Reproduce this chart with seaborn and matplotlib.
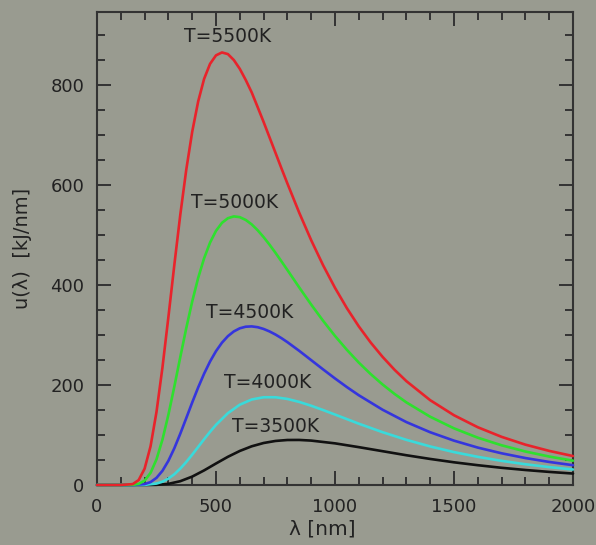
import numpy as np
import pandas as pd
import seaborn as sns
import matplotlib
matplotlib.use("Agg")
import matplotlib.pyplot as plt
from matplotlib.ticker import MultipleLocator

# ---- data (wavelength in nm, u in kJ/nm) ----
temps = ["T=3500K", "T=4000K", "T=4500K", "T=5000K", "T=5500K"]

lam_3500 = [0, 100, 150, 200, 250, 300, 350, 400, 450, 500, 550, 600, 650, 700, 750, 800, 850,
            900, 1000, 1100, 1200, 1300, 1400, 1500, 1600, 1700, 1800, 1900, 2000]
u_3500 = [0, 0, 0, 0.02, 0.37, 2.3, 7.6, 16.8, 29.2, 43.0, 56.4, 68.1, 77.4, 84.0, 88.1, 90.0, 90.1,
          88.8, 83.3, 75.7, 67.6, 59.5, 52.1, 45.4, 39.6, 34.4, 30.0, 26.2, 22.9]

lam_4000 = [0, 100, 150, 200, 250, 275, 300, 325, 350, 375, 400, 425, 450, 475, 500, 550, 600, 650, 700,
            750, 800, 850, 900, 950, 1000, 1100, 1200, 1300, 1400, 1500, 1600, 1700, 1800, 1900, 2000]
u_4000 = [0, 0, 0, 0.24, 2.9, 6.6, 12.8, 21.5, 32.8, 46.0, 60.7, 76.1, 91.5, 106.4, 120.3, 143.7, 160.6,
          171.0, 175.5, 175.5, 172.1, 166.1, 158.5, 149.9, 140.9, 122.6, 105.6, 90.3, 77.1, 65.8, 56.3,
          48.3, 41.5, 35.8, 31.0]

lam_4500 = [0, 100, 150, 200, 225, 250, 275, 300, 325, 350, 375, 400, 425, 450, 475, 500, 525, 550, 575,
            600, 625, 650, 675, 700, 725, 750, 775, 800, 850, 900, 950, 1000, 1050, 1100, 1200, 1300,
            1400, 1500, 1600, 1700, 1800, 1900, 2000]
u_4500 = [0, 0, 0.04, 1.8, 5.8, 14.3, 28.4, 48.4, 73.6, 102.7, 133.7, 165.0, 195.0, 222.6, 247.0, 267.7,
          284.6, 297.7, 307.2, 313.4, 316.6, 317.2, 315.6, 312.1, 307.1, 300.9, 293.7, 285.7, 268.2, 249.7,
          231.2, 213.1, 195.8, 179.5, 150.5, 125.8, 105.5, 88.7, 74.8, 63.4, 53.9, 46.1, 39.6]

lam_5000 = [0, 100, 150, 175, 200, 225, 250, 275, 300, 325, 350, 375, 400, 425, 450, 475, 500, 525, 550,
            575, 600, 625, 650, 675, 700, 725, 750, 775, 800, 850, 900, 950, 1000, 1050, 1100, 1150, 1200,
            1250, 1300, 1400, 1500, 1600, 1700, 1800, 1900, 2000]
u_5000 = [0, 0, 0.31, 2.2, 8.8, 24.2, 51.4, 90.8, 140.5, 197.0, 256.0, 313.6, 367.0, 414.0, 453.4, 484.8,
          508.3, 524.3, 533.6, 537.2, 535.7, 530.1, 521.2, 509.5, 495.8, 480.6, 464.3, 447.3, 430.0, 394.9,
          360.8, 328.4, 298.1, 270.3, 244.8, 221.8, 201.0, 182.2, 165.2, 136.5, 113.3, 94.6, 79.4, 67.0,
          56.9, 48.6]

lam_5500 = [0, 100, 150, 175, 200, 225, 250, 275, 300, 325, 350, 375, 400, 425, 450, 475, 500, 525, 550,
            575, 600, 625, 650, 675, 700, 725, 750, 775, 800, 850, 900, 950, 1000, 1050, 1100, 1150, 1200,
            1250, 1300, 1400, 1500, 1600, 1700, 1800, 1900, 2000]
u_5500 = [0, 0, 1.75, 9.8, 32.6, 77.4, 146.2, 235.0, 336.0, 440.5, 540.7, 630.4, 706.4, 766.9, 812.2, 842.3,
          859.3, 865.1, 861.8, 849.9, 832.3, 810.0, 785.2, 755.8, 726.1, 695.2, 664.3, 633.3, 603.0, 544.2,
          489.5, 439.5, 394.3, 353.6, 317.2, 284.9, 256.2, 230.5, 207.7, 169.6, 139.5, 115.5, 96.3, 80.7,
          68.2, 57.9]

line_colors = ["#111111", "#3adada", "#3535dd", "#2ee02e", "#e8232b"]

# label anchor positions (data coords)
label_x = [752, 718, 643, 578, 550]
label_y = [116, 204, 344, 566, 896]

frames = []
for name, lam, u in zip(temps,
                        [lam_3500, lam_4000, lam_4500, lam_5000, lam_5500],
                        [u_3500, u_4000, u_4500, u_5000, u_5500]):
    frames.append(pd.DataFrame({"lam": lam, "u": u, "T": name}))
df = pd.concat(frames, ignore_index=True)

# ---- style ----
bg = "#999b90"
sns.set_theme(style="ticks")
plt.rcParams["font.family"] = ["DejaVu Sans"]
plt.rcParams.update({
    "axes.edgecolor": "#333333",
    "axes.linewidth": 1.5,
    "xtick.color": "#333333",
    "ytick.color": "#333333",
    "xtick.labelcolor": "#222222",
    "ytick.labelcolor": "#222222",
    "text.color": "#222222",
    "axes.labelcolor": "#222222",
})

fig = plt.figure(figsize=(5.96, 5.45), dpi=100, facecolor=bg)
ax = fig.add_axes([97 / 596, 60 / 545, 476 / 596, 473 / 545])
ax.set_facecolor(bg)

sns.lineplot(data=df, x="lam", y="u", hue="T", hue_order=temps,
             palette=line_colors, linewidth=1.9, legend=False, ax=ax,
             sort=False, estimator=None)
for ln in ax.lines:
    ln.set_zorder(4)
    ln.set_clip_on(False)
    ln.set_solid_joinstyle("round")

for name, x, y in zip(temps, label_x, label_y):
    ax.text(x, y, name, ha="center", va="center", fontsize=13.5, color="#222222")

ax.set_xlim(0, 2000)
ax.set_ylim(0, 946)
ax.xaxis.set_major_locator(MultipleLocator(500))
ax.xaxis.set_minor_locator(MultipleLocator(100))
ax.yaxis.set_major_locator(MultipleLocator(200))
ax.yaxis.set_minor_locator(MultipleLocator(50))
ax.tick_params(which="both", direction="in", top=True, right=True, width=1.4,
               labelsize=13)
ax.tick_params(which="major", length=10, pad=9)
ax.tick_params(which="minor", length=6)

ax.set_xlabel("λ [nm]", fontsize=14.5)
ax.set_ylabel("u(λ)  [kJ/nm]", fontsize=14)
ax.xaxis.set_label_coords(0.473, -0.072)
ax.yaxis.set_label_coords(-0.137, 0.5)
for s in ax.spines.values():
    s.set_visible(True)
    s.set_zorder(3)

fig.savefig("out.png", dpi=100, facecolor=bg)
